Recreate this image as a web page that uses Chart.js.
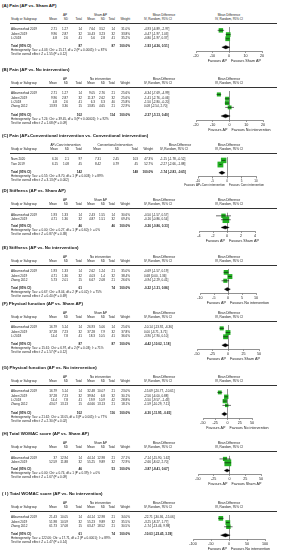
<!DOCTYPE html>
<html>
<head>
<meta charset="utf-8">
<script src="https://cdn.jsdelivr.net/npm/chart.js@4.4.1/dist/chart.umd.min.js"></script>
<style>
  html, body { margin: 0; padding: 0; background: #fff; }
  #fig { position: relative; width: 282px; height: 550px; overflow: hidden;
         font-family: "Liberation Sans", Arial, sans-serif; color: #222; }
  .t { position: absolute; white-space: nowrap; font-size: 3.1px; line-height: 1; transform: translateY(-50%); }
  .r { transform: translate(-100%, -50%); }
  .c { transform: translate(-50%, -50%); }
  .title { font-size: 4.4px; font-weight: bold; color: #111; }
  .b { font-weight: bold; }
  .rule { position: absolute; height: 0; border-top: 0.6px solid #333; }
  canvas { position: absolute; }
</style>
</head>
<body>
<div id="fig"></div>
<script>
// (A) Pain (AP vs. Sham AP)
const titleA = '(A) Pain (AP vs. Sham AP)';
const groupsA = ['AP', 'Sham AP'];
const studiesA = ['Akbarnezhad 2019', 'Jaberi 2019', 'Li 2018'];
const expA = [[2.71, 1.27, 14], [9.96, 2.87, 32], [4.8, 2.6, 41]];
const ctlA = [[7.64, 3.52, 14], [10.43, 3.23, 32], [5.6, 2.8, 41]];
const weightA = [31.0, 33.8, 35.2];
const mdA = [-4.93, -0.47, -0.80];
const lowA = [-6.89, -1.97, -1.97];
const highA = [-2.97, 1.03, 0.37];
const totalA = [87, 87, -1.93, -4.36, 0.51];
const hetA = 'Heterogeneity: Tau² = 4.03; Chi² = 15.17, df = 2 (P = 0.0005); I² = 87%';
const testA = 'Test for overall effect: Z = 1.55 (P = 0.12)';
const ticksA = [-20, -10, 0, 10, 20];
const favA = ['Favours AP', 'Favours Sham AP'];

// (B) Pain (AP vs. No intervention)
const titleB = '(B) Pain (AP vs. No intervention)';
const groupsB = ['AP', 'No intervention'];
const studiesB = ['Akbarnezhad 2019', 'Jaberi 2019', 'Li 2018', 'Zhang 2012'];
const expB = [[2.71, 1.27, 14], [9.96, 2.87, 32], [4.8, 2.6, 41], [13.93, 3.36, 15]];
const ctlB = [[9.05, 2.76, 21], [11.37, 2.62, 32], [6.3, 3.3, 40], [13.85, 4.65, 21]];
const weightB = [25.6, 25.6, 25.8, 22.9];
const mdB = [-6.34, -1.41, -1.50, 0.08];
const lowB = [-7.69, -2.76, -2.80, -2.54];
const highB = [-4.99, -0.06, -0.20, 2.70];
const totalB = [102, 114, -2.37, -5.13, 0.40];
const hetB = 'Heterogeneity: Tau² = 7.24; Chi² = 39.45, df = 3 (P < 0.00001); I² = 92%';
const testB = 'Test for overall effect: Z = 1.68 (P = 0.09)';
const ticksB = [-20, -10, 0, 10, 20];
const favB = ['Favours AP', 'Favours No intervention'];

// (C) Pain (AP+Conventional intervention vs. Conventional intervention)
const titleC = '(C) Pain (AP+Conventional intervention vs. Conventional intervention)';
const groupsC = ['AP+Conv intervention', 'Conventional intervention'];
const studiesC = ['Nam 2020', 'Tian 2019'];
const expC = [[6.16, 2.1, 97], [6.15, 1.08, 45]];
const ctlC = [[7.31, 2.45, 103], [8.42, 0.79, 45]];
const weightC = [47.3, 52.7];
const mdC = [-1.15, -2.27];
const lowC = [-1.78, -2.66];
const highC = [-0.52, -1.88];
const totalC = [142, 148, -1.74, -2.83, -0.65];
const hetC = 'Heterogeneity: Tau² = 0.55; Chi² = 8.70, df = 1 (P = 0.003); I² = 89%';
const testC = 'Test for overall effect: Z = 3.13 (P = 0.002)';
const ticksC = [-10, -5, 0, 5, 10];
const favC = ['Favours AP+Conv intervention', 'Favours Conv intervention'];

// (D) Stiffness (AP vs. Sham AP)
const titleD = '(D) Stiffness (AP vs. Sham AP)';
const groupsD = ['AP', 'Sham AP'];
const studiesD = ['Akbarnezhad 2019', 'Jaberi 2019'];
const expD = [[1.93, 1.33, 14], [4.71, 1.36, 32]];
const ctlD = [[2.43, 1.55, 14], [4.87, 1.51, 32]];
const weightD = [30.6, 69.4];
const mdD = [-0.50, -0.16];
const lowD = [-1.57, -0.86];
const highD = [0.57, 0.54];
const totalD = [46, 46, -0.26, -0.86, 0.33];
const hetD = 'Heterogeneity: Tau² = 0.00; Chi² = 0.27, df = 1 (P = 0.60); I² = 0%';
const testD = 'Test for overall effect: Z = 0.87 (P = 0.38)';
const ticksD = [-4, -2, 0, 2, 4];
const favD = ['Favours AP', 'Favours Sham AP'];

// (E) Stiffness (AP vs. No intervention)
const titleE = '(E) Stiffness (AP vs. No intervention)';
const groupsE = ['AP', 'No intervention'];
const studiesE = ['Akbarnezhad 2019', 'Jaberi 2019', 'Zhang 2012'];
const expE = [[1.93, 1.33, 14], [4.71, 1.36, 32], [5.73, 2.01, 15]];
const ctlE = [[2.62, 1.24, 21], [4.03, 1.4, 32], [6.67, 2.08, 21]];
const weightE = [35.0, 38.4, 26.6];
const mdE = [-0.69, 0.68, -0.94];
const lowE = [-1.57, 0.00, -2.29];
const highE = [0.19, 1.36, 0.41];
const totalE = [61, 74, -0.22, -1.31, 0.86];
const hetE = 'Heterogeneity: Tau² = 0.67; Chi² = 8.04, df = 2 (P = 0.02); I² = 75%';
const testE = 'Test for overall effect: Z = 0.40 (P = 0.69)';
const ticksE = [-10, -5, 0, 5, 10];
const favE = ['Favours AP', 'Favours No intervention'];

// (F) Physical function (AP vs. Sham AP)
const titleF = '(F) Physical function (AP vs. Sham AP)';
const groupsF = ['AP', 'Sham AP'];
const studiesF = ['Akbarnezhad 2019', 'Jaberi 2019', 'Li 2018'];
const expF = [[16.79, 5.14, 14], [37.28, 7.23, 32], [14.4, 7.8, 41]];
const ctlF = [[26.93, 5.06, 14], [37.28, 7.9, 32], [18.3, 10.5, 41]];
const weightF = [25.6, 37.8, 36.6];
const mdF = [-10.14, 0.00, -3.90];
const lowF = [-13.92, -3.71, -7.90];
const highF = [-6.36, 3.71, 0.10];
const totalF = [87, 87, -4.42, -10.02, 1.18];
const hetF = 'Heterogeneity: Tau² = 15.61; Chi² = 6.97, df = 2 (P = 0.03); I² = 71%';
const testF = 'Test for overall effect: Z = 1.57 (P = 0.12)';
const ticksF = [-50, -25, 0, 25, 50];
const favF = ['Favours AP', 'Favours Sham AP'];

// (G) Physical function (AP vs. No intervention)
const titleG = '(G) Physical function (AP vs. No intervention)';
const groupsG = ['AP', 'No intervention'];
const studiesG = ['Akbarnezhad 2019', 'Jaberi 2019', 'Li 2018', 'Zhang 2012'];
const expG = [[16.79, 5.14, 14], [37.28, 7.23, 32], [14.4, 7.8, 41], [43.07, 13.13, 15]];
const ctlG = [[32.48, 10.07, 21], [39.84, 6.8, 32], [19.9, 10.9, 42], [44.66, 13.13, 21]];
const weightG = [23.0, 30.1, 28.8, 18.1];
const mdG = [-15.69, -2.56, -5.50, -1.59];
const lowG = [-20.77, -6.00, -9.57, -10.29];
const highG = [-10.61, 0.88, -1.43, 7.11];
const totalG = [102, 116, -6.30, -11.95, -0.65];
const hetG = 'Heterogeneity: Tau² = 21.62; Chi² = 13.05, df = 3 (P = 0.005); I² = 77%';
const testG = 'Test for overall effect: Z = 2.30 (P = 0.02)';
const ticksG = [-50, -25, 0, 25, 50];
const favG = ['Favours AP', 'Favours No intervention'];

// (H) Total WOMAC score (AP vs. Sham AP)
const titleH = '(H) Total WOMAC score (AP vs. Sham AP)';
const groupsH = ['AP', 'Sham AP'];
const studiesH = ['Akbarnezhad 2019', 'Jaberi 2019'];
const expH = [[37, 12.94, 14], [52.59, 11.88, 32]];
const ctlH = [[44.14, 12.98, 21], [55.25, 9.89, 32]];
const weightH = [27.1, 72.9];
const mdH = [-7.14, -2.66];
const lowH = [-15.90, -8.02];
const highH = [1.62, 2.70];
const totalH = [46, 53, -3.87, -8.41, 0.67];
const hetH = 'Heterogeneity: Tau² = 0.00; Chi² = 0.74, df = 1 (P = 0.39); I² = 0%';
const testH = 'Test for overall effect: Z = 1.67 (P = 0.09)';
const ticksH = [-50, -25, 0, 25, 50];
const favH = ['Favours AP', 'Favours Sham AP'];

// ( I ) Total WOMAC score (AP vs. No intervention)
const titleI = '( I ) Total WOMAC score (AP vs. No intervention)';
const groupsI = ['AP', 'No intervention'];
const studiesI = ['Akbarnezhad 2019', 'Jaberi 2019', 'Zhang 2012'];
const expI = [[21.43, 10.05, 14], [51.98, 10.59, 32], [61.73, 17.08, 15]];
const ctlI = [[44.14, 12.98, 21], [55.23, 9.89, 32], [63.47, 18.52, 21]];
const weightI = [34.0, 35.5, 30.5];
const mdI = [-22.71, -3.25, -1.74];
const lowI = [-30.36, -8.27, -13.46];
const highI = [-15.06, 1.77, 9.98];
const totalI = [61, 74, -10.03, -23.45, 3.39];
const hetI = 'Heterogeneity: Tau² = 122.06; Chi² = 17.71, df = 2 (P = 0.0001); I² = 89%';
const testI = 'Test for overall effect: Z = 1.47 (P = 0.14)';
const ticksI = [-100, -50, 0, 50, 100];
const favI = ['Favours AP', 'Favours No intervention'];

const panels = [
  { title: titleA, groups: groupsA, studies: studiesA, exp: expA, ctl: ctlA, weight: weightA, md: mdA, low: lowA, high: highA, total: totalA, het: hetA, test: testA, ticks: ticksA, fav: favA },
  { title: titleB, groups: groupsB, studies: studiesB, exp: expB, ctl: ctlB, weight: weightB, md: mdB, low: lowB, high: highB, total: totalB, het: hetB, test: testB, ticks: ticksB, fav: favB },
  { title: titleC, groups: groupsC, studies: studiesC, exp: expC, ctl: ctlC, weight: weightC, md: mdC, low: lowC, high: highC, total: totalC, het: hetC, test: testC, ticks: ticksC, fav: favC },
  { title: titleD, groups: groupsD, studies: studiesD, exp: expD, ctl: ctlD, weight: weightD, md: mdD, low: lowD, high: highD, total: totalD, het: hetD, test: testD, ticks: ticksD, fav: favD },
  { title: titleE, groups: groupsE, studies: studiesE, exp: expE, ctl: ctlE, weight: weightE, md: mdE, low: lowE, high: highE, total: totalE, het: hetE, test: testE, ticks: ticksE, fav: favE },
  { title: titleF, groups: groupsF, studies: studiesF, exp: expF, ctl: ctlF, weight: weightF, md: mdF, low: lowF, high: highF, total: totalF, het: hetF, test: testF, ticks: ticksF, fav: favF },
  { title: titleG, groups: groupsG, studies: studiesG, exp: expG, ctl: ctlG, weight: weightG, md: mdG, low: lowG, high: highG, total: totalG, het: hetG, test: testG, ticks: ticksG, fav: favG },
  { title: titleH, groups: groupsH, studies: studiesH, exp: expH, ctl: ctlH, weight: weightH, md: mdH, low: lowH, high: highH, total: totalH, het: hetH, test: testH, ticks: ticksH, fav: favH },
  { title: titleI, groups: groupsI, studies: studiesI, exp: expI, ctl: ctlI, weight: weightI, md: mdI, low: lowI, high: highI, total: totalI, het: hetI, test: testI, ticks: ticksI, fav: favI }
];

// layout
const FONT = '"Liberation Sans", Arial, sans-serif';
const GREEN = '#22b022';
const ROW = 4.8;
const PANEL_TOP = [6, 70, 136, 191, 248, 304, 368, 434, 494];
const AXIS_SPAN = [[196, 262], [196, 263], [198, 256], [199, 255], [200, 256], [197, 259], [203, 252], [198, 261], [193, 265]];
const COLS = { expMean: 57, expSD: 68, expN: 82, ctlMean: 95, ctlSD: 105, ctlN: 115, weight: 130, md: 144 };
const COLS_C = { expMean: 58, expSD: 69, expN: 82, ctlMean: 101, ctlSD: 119, ctlN: 138, weight: 153, md: 160 };
const fig = document.getElementById('fig');

function fmt(v) { return v.toFixed(2); }
function ciText(m, l, h) { return fmt(m) + ' [' + fmt(l) + ', ' + fmt(h) + ']'; }

function addText(x, y, s, cls) {
  const d = document.createElement('div');
  d.className = 't ' + (cls || '');
  d.style.left = x + 'px';
  d.style.top = y + 'px';
  d.textContent = s;
  fig.appendChild(d);
  return d;
}

// labels under the axis, split at zero
const favoursPlugin = {
  id: 'favours',
  afterDraw(chart, args, opts) {
    const { ctx, scales } = chart;
    const x0 = scales.x.getPixelForValue(0);
    const y = scales.x.bottom + opts.size * 0.6;
    ctx.save();
    ctx.font = opts.size + 'px ' + FONT;
    ctx.fillStyle = '#222';
    ctx.textBaseline = 'middle';
    ctx.textAlign = 'right';
    ctx.fillText(opts.labels[0], x0 - 2, y);
    ctx.textAlign = 'left';
    ctx.fillText(opts.labels[1], x0 + 2, y);
    ctx.restore();
  }
};

function drawPanel(p, idx) {
  const t = PANEL_TOP[idx];
  const cols = idx === 2 ? COLS_C : COLS;
  const span = AXIS_SPAN[idx];
  const labelSize = idx === 2 ? 3.0 : 3.7;
  const n = p.studies.length;
  const top = t + 17;
  const totalRow = n + 1;

  addText(2, t, p.title, 'title');

  // forest plot
  const canvas = document.createElement('canvas');
  const h = Math.round(ROW * (n + 2.8) + labelSize * 2 + 5);
  canvas.width = 100;
  canvas.height = h;
  canvas.style.left = '180px';
  canvas.style.top = top + 'px';
  fig.appendChild(canvas);

  const datasets = [];
  p.studies.forEach((s, i) => {
    datasets.push({
      showLine: true,
      data: [{ x: p.low[i], y: i }, { x: p.high[i], y: i }],
      borderColor: '#111', borderWidth: 0.6, pointRadius: 0, clip: false
    });
  });
  datasets.push({
    data: p.md.map((v, i) => ({ x: v, y: i })),
    pointStyle: 'rect',
    pointRadius: p.weight.map(w => 0.8 * Math.sqrt(w) / Math.SQRT2),
    backgroundColor: GREEN, borderWidth: 0, clip: false
  });
  const [nE, nC, tMd, tLow, tHigh] = p.total;
  datasets.push({
    showLine: true, fill: 'shape',
    data: [
      { x: tLow, y: totalRow }, { x: tMd, y: totalRow - 0.42 },
      { x: tHigh, y: totalRow }, { x: tMd, y: totalRow + 0.42 },
      { x: tLow, y: totalRow }
    ],
    borderColor: '#000', backgroundColor: '#000', borderWidth: 0.3, pointRadius: 0, clip: false
  });

  const tickVals = p.ticks;
  const chart = new Chart(canvas, {
    type: 'scatter',
    data: { datasets },
    options: {
      responsive: false,
      animation: false,
      events: [],
      layout: { padding: { left: span[0] - 180, right: 280 - span[1], top: 0, bottom: labelSize + 0.8 } },
      plugins: {
        legend: { display: false },
        tooltip: { enabled: false },
        favours: { labels: p.fav, size: labelSize }
      },
      scales: {
        x: {
          type: 'linear',
          min: tickVals[0],
          max: tickVals[tickVals.length - 1],
          afterBuildTicks: s => { s.ticks = tickVals.map(v => ({ value: v })); },
          ticks: { font: { size: labelSize, family: FONT }, color: '#222', padding: 0.6, maxRotation: 0, autoSkip: false },
          grid: {
            drawOnChartArea: true,
            color: c => (c.tick && c.tick.value === 0 ? '#222' : 'rgba(0,0,0,0)'),
            lineWidth: 0.5, tickLength: 1.5, tickColor: '#222'
          },
          border: { display: true, color: '#222', width: 0.5 }
        },
        y: { type: 'linear', reverse: true, min: -0.8, max: n + 2, display: false }
      }
    },
    plugins: [favoursPlugin]
  });

  const yAt = v => top + chart.scales.y.getPixelForValue(v);

  // table header
  const h1 = top - 7.5, h2 = top - 2.6;
  addText((cols.expMean - 9 + cols.expN) / 2, h1, p.groups[0], 'c');
  addText((cols.ctlMean - 9 + cols.ctlN) / 2, h1, p.groups[1], 'c');
  addText(cols.md + 20, h1, 'Mean Difference', 'c');
  addText(229, h1, 'Mean Difference', 'c');
  addText(11, h2, 'Study or Subgroup');
  addText(cols.expMean, h2, 'Mean', 'r');
  addText(cols.expSD, h2, 'SD', 'r');
  addText(cols.expN, h2, 'Total', 'r');
  addText(cols.ctlMean, h2, 'Mean', 'r');
  addText(cols.ctlSD, h2, 'SD', 'r');
  addText(cols.ctlN, h2, 'Total', 'r');
  addText(cols.weight, h2, 'Weight', 'r');
  addText(cols.md, h2, 'IV, Random, 95% CI');
  addText(229, h2, 'IV, Random, 95% CI', 'c');
  const rule = document.createElement('div');
  rule.className = 'rule';
  rule.style.left = '10px';
  rule.style.width = '267px';
  rule.style.top = top + 'px';
  fig.appendChild(rule);

  // study rows
  p.studies.forEach((s, i) => {
    const y = yAt(i);
    addText(11, y, s);
    addText(cols.expMean, y, String(p.exp[i][0]), 'r');
    addText(cols.expSD, y, String(p.exp[i][1]), 'r');
    addText(cols.expN, y, String(p.exp[i][2]), 'r');
    addText(cols.ctlMean, y, String(p.ctl[i][0]), 'r');
    addText(cols.ctlSD, y, String(p.ctl[i][1]), 'r');
    addText(cols.ctlN, y, String(p.ctl[i][2]), 'r');
    addText(cols.weight, y, p.weight[i].toFixed(1) + '%', 'r');
    addText(cols.md, y, ciText(p.md[i], p.low[i], p.high[i]));
  });

  // total + footnotes
  const yt = yAt(totalRow);
  addText(11, yt, 'Total (95% CI)', 'b');
  addText(cols.expN, yt, String(nE), 'r b');
  addText(cols.ctlN, yt, String(nC), 'r b');
  addText(cols.weight, yt, '100.0%', 'r b');
  addText(cols.md, yt, ciText(tMd, tLow, tHigh), 'b');
  addText(11, yAt(totalRow + 0.96), p.het);
  addText(11, yAt(totalRow + 1.92), p.test);
}

panels.forEach(drawPanel);
</script>
</body>
</html>
